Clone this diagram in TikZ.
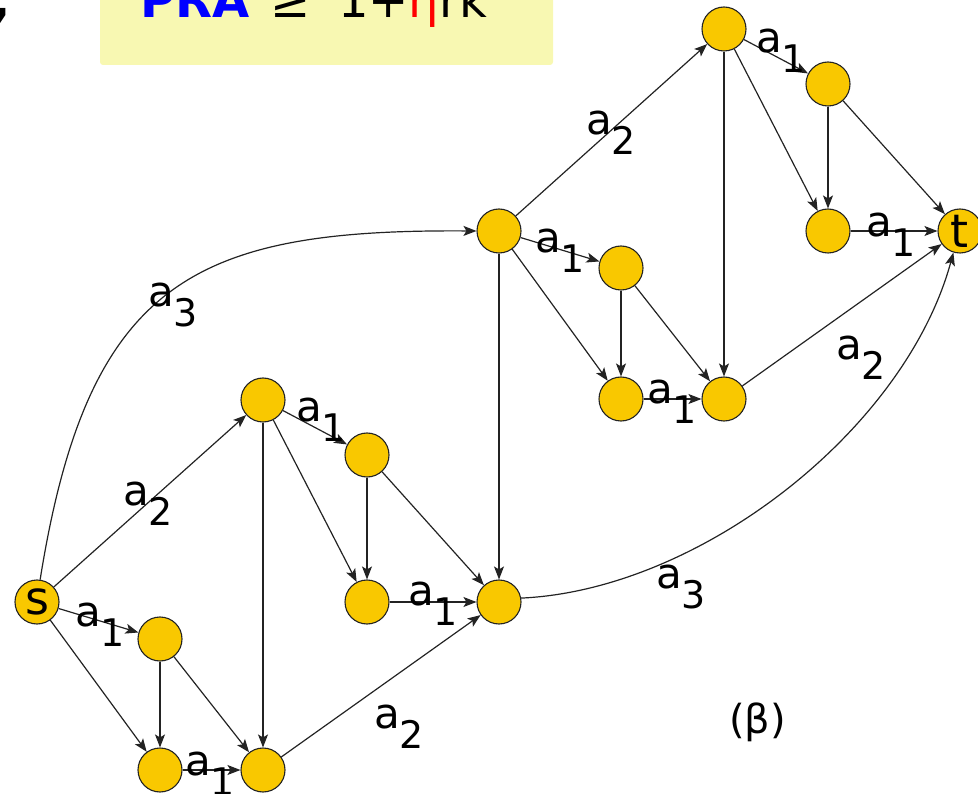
\documentclass[tikz,border=0pt]{standalone}
\usepackage{fontspec}
\setmainfont{DejaVu Sans}
\usetikzlibrary{arrows.meta}
\definecolor{nodefill}{RGB}{249,200,0}
\definecolor{boxfill}{RGB}{248,248,178}
\definecolor{edgecol}{RGB}{35,35,35}
\newcommand\edgelab[1]{a\raisebox{-20pt}{\fontsize{38}{38}\selectfont #1}}
\begin{document}
\begin{tikzpicture}[x=1pt,y=-1pt,
  vtx/.style={circle,draw=edgecol,line width=1.1pt,fill=nodefill,minimum size=44pt,inner sep=0pt,font=\fontsize{46}{46}\selectfont},
  arr/.style={draw=edgecol,line width=1.2pt,-{Stealth[length=13pt,width=10pt,inset=3pt]}},
  lbl/.style={anchor=base west,inner sep=0pt,font=\fontsize{42}{42}\selectfont},
  toptxt/.style={anchor=base west,inner sep=0pt,font=\fontsize{48}{48}\selectfont}]
\useasboundingbox (0,0) rectangle (978,794);
\clip (0,0) rectangle (978,794);
% top box
\fill[boxfill,rounded corners=3pt] (100,-20) rectangle (553,65);
\node[toptxt,font=\fontsize{48}{48}\selectfont\bfseries] (comma) at (-8,18) {,};
\node[toptxt,font=\fontsize{48}{48}\selectfont\bfseries,text=blue] (pra) at (140,18) {PRA};
\node[toptxt] (geq) at (270,18) {≥};
\node[toptxt] (rhs) at (338,18) {1+\textcolor{red}{η}rk};
% vertices
\node[vtx] (s) at (37,602) {s};
\node[vtx] (n1) at (160,639) {};
\node[vtx] (n2) at (160,770) {};
\node[vtx] (n3) at (263,770) {};
\node[vtx] (n4) at (263,400) {};
\node[vtx] (n5) at (367,455) {};
\node[vtx] (n6) at (367,602) {};
\node[vtx] (n7) at (499,602) {};
\node[vtx] (n8) at (499,231) {};
\node[vtx] (n9) at (621,268) {};
\node[vtx] (n10) at (621,399) {};
\node[vtx] (n11) at (724,399) {};
\node[vtx] (n12) at (724,29) {};
\node[vtx] (n13) at (828,84) {};
\node[vtx] (n14) at (828,231) {};
\node[vtx] (t) at (960,231) {t};
% lower block
\draw[arr] (s) -- (n1);
\draw[arr] (s) -- (n2);
\draw[arr] (n1) -- (n2);
\draw[arr] (n1) -- (n3);
\draw[arr] (n2) -- (n3);
\draw[arr] (s) -- (n4);
\draw[arr] (n4) -- (n3);
\draw[arr] (n4) -- (n5);
\draw[arr] (n4) -- (n6);
\draw[arr] (n5) -- (n6);
\draw[arr] (n5) -- (n7);
\draw[arr] (n6) -- (n7);
\draw[arr] (n3) -- (n7);
\draw[arr] (n8) -- (n7);
% upper block
\draw[arr] (n8) -- (n9);
\draw[arr] (n8) -- (n10);
\draw[arr] (n9) -- (n10);
\draw[arr] (n9) -- (n11);
\draw[arr] (n10) -- (n11);
\draw[arr] (n8) -- (n12);
\draw[arr] (n12) -- (n11);
\draw[arr] (n11) -- (t);
\draw[arr] (n12) -- (n13);
\draw[arr] (n12) -- (n14);
\draw[arr] (n13) -- (n14);
\draw[arr] (n13) -- (t);
\draw[arr] (n14) -- (t);
% curved edges
\draw[arr] (s.82) .. controls (88,280) and (195,229) .. (n8.west);
\draw[arr] (n7.10) .. controls (700,590) and (905,430) .. (t.253);
% labels
\node[lbl] (l1) at (75,626) {\edgelab{1}};
\node[lbl] (l2) at (185,775) {\edgelab{1}};
\node[lbl] (l3) at (123,505) {\edgelab{2}};
\node[lbl] (l4) at (296,422) {\edgelab{1}};
\node[lbl] (l5) at (408,605) {\edgelab{1}};
\node[lbl] (l6) at (374,728) {\edgelab{2}};
\node[lbl] (l7) at (148,307) {\edgelab{3}};
\node[lbl] (l8) at (656,588) {\edgelab{3}};
\node[lbl] (l9) at (535,253) {\edgelab{1}};
\node[lbl] (l10) at (647,404) {\edgelab{1}};
\node[lbl] (l11) at (836,360) {\edgelab{2}};
\node[lbl] (l12) at (586,135) {\edgelab{2}};
\node[lbl] (l13) at (756,53) {\edgelab{1}};
\node[lbl] (l14) at (866,237) {\edgelab{1}};
\node[anchor=base west,inner sep=0pt,font=\fontsize{40}{40}\selectfont] (beta) at (729,733) {(β)};
\end{tikzpicture}
\end{document}
